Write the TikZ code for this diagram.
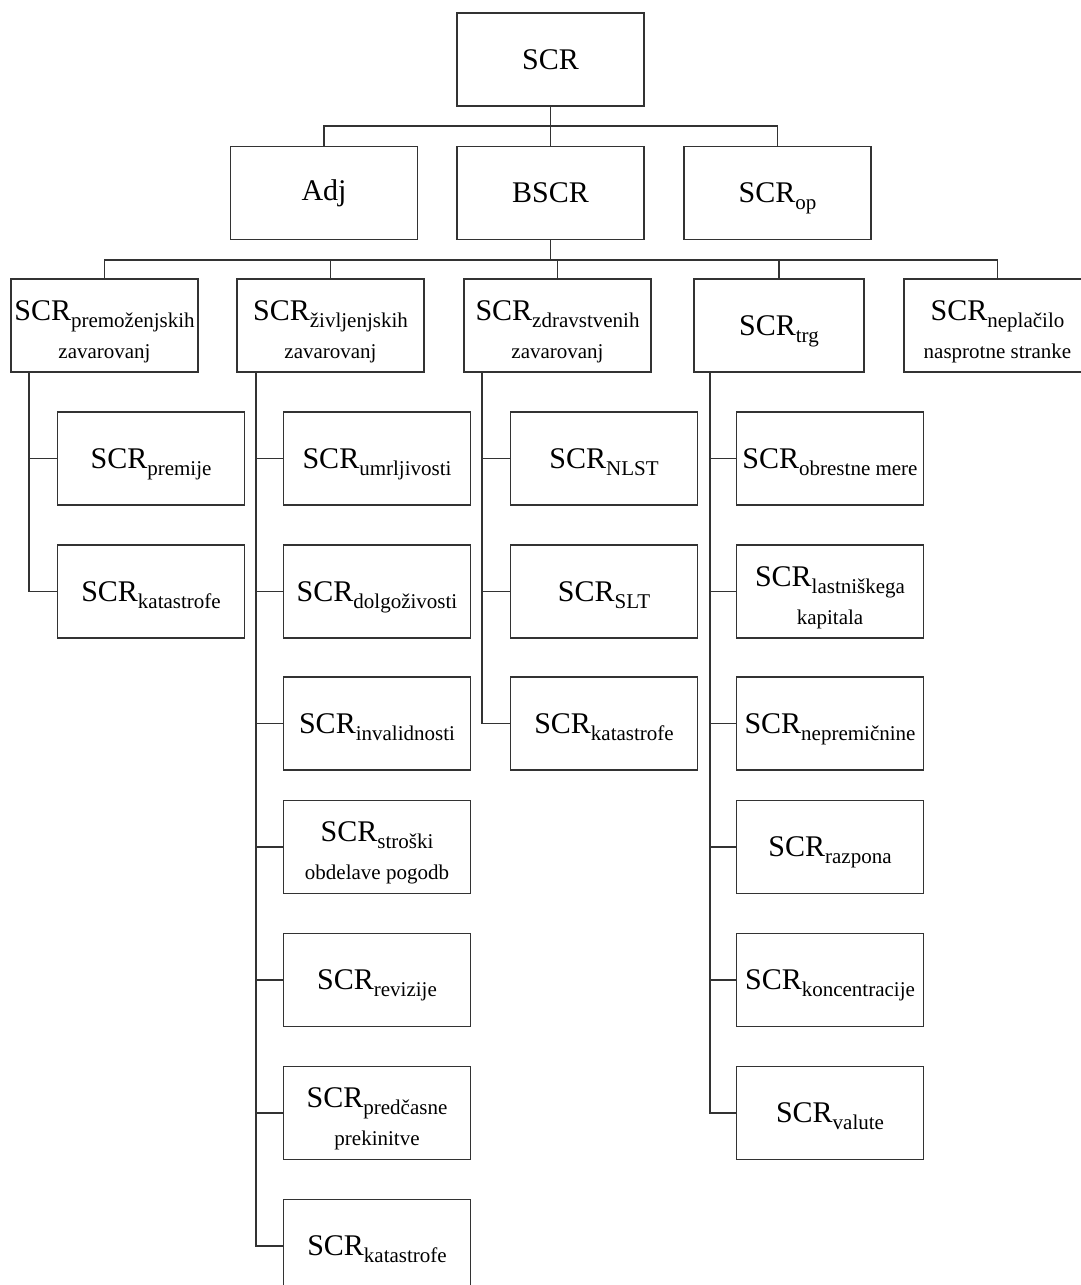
\documentclass[tikz,border=0pt]{standalone}
\usepackage{fontspec}
\setmainfont{Liberation Serif}
\usetikzlibrary{positioning}
\newcommand{\scrsub}[1]{\raisebox{-7pt}{\fontsize{21}{24}\selectfont #1}}
\newcommand{\scrof}[1]{SCR\scrsub{#1}}
\newcommand{\subline}[1]{{\fontsize{21}{24}\selectfont #1}}
\newcommand{\topstrut}{\rule{0pt}{32pt}}
\tikzset{
      font=\fontsize{30}{38}\selectfont,      % large serif text
      box/.style       = {rectangle, draw=black!80, line width=1.6pt,
                          minimum width=187pt, minimum height=93pt,
                          inner sep=2pt, align=center},
      subbox/.style    = {box, text depth=0pt},  % one line with subscript
      link/.style      = {draw=black!80, line width=1.6pt}
    }
\begin{document}
\begin{tikzpicture}[x=1pt, y=-1pt]
  \useasboundingbox (0,0) rectangle (1080,1285);
  % Top levels
  \node[box] (scr)  at (550.5,59.5) {SCR};
  \node[box] (adj)  at (324,193)    {Adj};
  \node[box] (bscr) at (550.5,193)  {BSCR};
  \node[subbox] (op) at (777.5,193) {\scrof{op}};
  % Risk modules
  \node[box] (prem) at (104.5,325.5) {\topstrut\scrof{premoženjskih}\\ \subline{zavarovanj}};
  \node[box] (ziv)  at (330.5,325.5) {\topstrut\scrof{življenjskih}\\ \subline{zavarovanj}};
  \node[box] (zdr)  at (557.5,325.5) {\topstrut\scrof{zdravstvenih}\\ \subline{zavarovanj}};
  \node[subbox, minimum width=170pt] (trg) at (779,325.5) {\scrof{trg}};
  \node[box] (nep)  at (997.5,325.5) {\topstrut\scrof{neplačilo}\\ \subline{nasprotne stranke}};
  % Property sub-modules
  \node[subbox] (premPrem) at (151,458.5) {\scrof{premije}};
  \node[subbox] (premKat)  at (151,591.5) {\scrof{katastrofe}};
  % Life sub-modules
  \node[subbox] (zivUmr) at (377,458.5) {\scrof{umrljivosti}};
  \node[subbox] (zivDol) at (377,591.5) {\scrof{dolgoživosti}};
  \node[subbox] (zivInv) at (377,723.5) {\scrof{invalidnosti}};
  \node[box]    (zivStr) at (377,847)   {\topstrut\scrof{stroški}\\ \subline{obdelave pogodb}};
  \node[subbox] (zivRev) at (377,980)   {\scrof{revizije}};
  \node[box]    (zivPre) at (377,1113)  {\topstrut\scrof{predčasne}\\ \subline{prekinitve}};
  \node[subbox] (zivKat) at (377,1246)  {\scrof{katastrofe}};
  % Health sub-modules
  \node[subbox] (zdrNlst) at (604,458.5) {\scrof{NLST}};
  \node[subbox] (zdrSlt)  at (604,591.5) {\scrof{SLT}};
  \node[subbox] (zdrKat)  at (604,723.5) {\scrof{katastrofe}};
  % Market sub-modules
  \node[subbox] (trgObr)  at (830,458.5) {\scrof{obrestne mere}};
  \node[box]    (trgLast) at (830,591.5) {\topstrut\scrof{lastniškega}\\ \subline{kapitala}};
  \node[subbox] (trgNep)  at (830,723.5) {\scrof{nepremičnine}};
  \node[subbox] (trgRaz)  at (830,847)   {\scrof{razpona}};
  \node[subbox] (trgKon)  at (830,980)   {\scrof{koncentracije}};
  \node[subbox] (trgVal)  at (830,1113)  {\scrof{valute}};
  % Upper bus
  \coordinate (busA) at (550.5,126);
  \draw[link] (scr) -- (busA) -- (bscr);
  \draw[link] (adj.north) |- (busA) -| (op.north);
  % Lower bus
  \coordinate (busB) at (550.5,260);
  \draw[link] (bscr) -- (busB);
  \draw[link] (prem.north) |- (busB) -| (nep.north);
  \draw[link] (ziv.north) -- (ziv.north |- busB);
  \draw[link] (zdr.north) -- (zdr.north |- busB);
  \draw[link] (trg.north) -- (trg.north |- busB);
  % Property links
  \draw[link] ([xshift=19pt]prem.south west) |- (premPrem.west);
  \draw[link] ([xshift=19pt]prem.south west) |- (premKat.west);
  % Life links
  \draw[link] ([xshift=20pt]ziv.south west) |- (zivUmr.west);
  \draw[link] ([xshift=20pt]ziv.south west) |- (zivDol.west);
  \draw[link] ([xshift=20pt]ziv.south west) |- (zivInv.west);
  \draw[link] ([xshift=20pt]ziv.south west) |- (zivStr.west);
  \draw[link] ([xshift=20pt]ziv.south west) |- (zivRev.west);
  \draw[link] ([xshift=20pt]ziv.south west) |- (zivPre.west);
  \draw[link] ([xshift=20pt]ziv.south west) |- (zivKat.west);
  % Health links
  \draw[link] ([xshift=19pt]zdr.south west) |- (zdrNlst.west);
  \draw[link] ([xshift=19pt]zdr.south west) |- (zdrSlt.west);
  \draw[link] ([xshift=19pt]zdr.south west) |- (zdrKat.west);
  % Market links
  \draw[link] ([xshift=17pt]trg.south west) |- (trgObr.west);
  \draw[link] ([xshift=17pt]trg.south west) |- (trgLast.west);
  \draw[link] ([xshift=17pt]trg.south west) |- (trgNep.west);
  \draw[link] ([xshift=17pt]trg.south west) |- (trgRaz.west);
  \draw[link] ([xshift=17pt]trg.south west) |- (trgKon.west);
  \draw[link] ([xshift=17pt]trg.south west) |- (trgVal.west);
\end{tikzpicture}
\end{document}
